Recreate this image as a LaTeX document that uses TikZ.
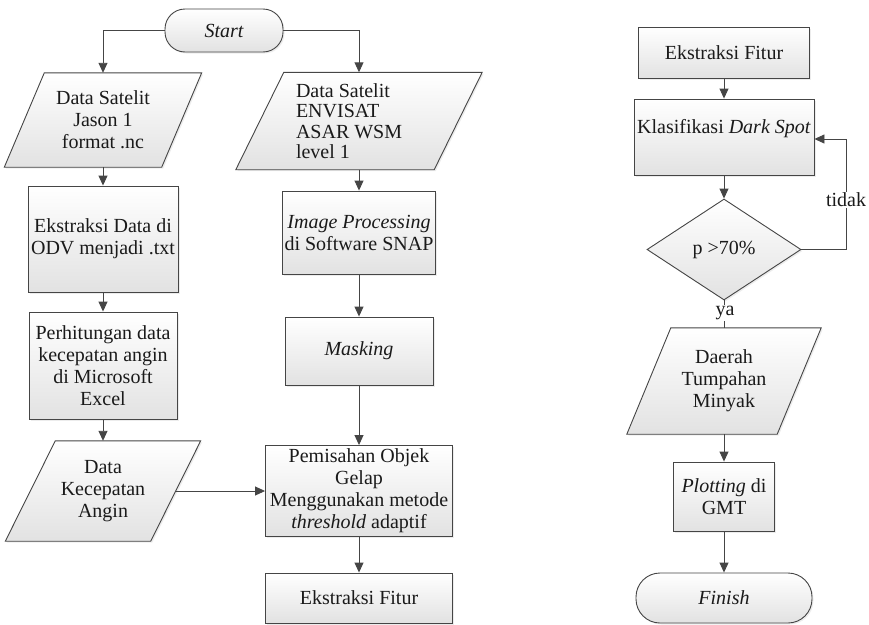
\documentclass[tikz,border=0pt]{standalone}
\usepackage{fontspec}
\setmainfont{Liberation Serif}
\usetikzlibrary{arrows.meta,shapes.geometric,backgrounds,shadows}
\definecolor{linec}{HTML}{454545}
\definecolor{textc}{HTML}{1A1A1A}
\definecolor{fillc}{HTML}{E2E2E2}
\tikzset{
  fnt/.style={font=\fontsize{20}{22}\selectfont},
  shd/.style={drop shadow={opacity=0.15, shadow xshift=1.5pt, shadow yshift=-1.5pt}},
  base/.style={fnt, shd, draw=linec, line width=0.9pt, top color=white, bottom color=fillc, text=textc, align=center, inner sep=2pt},
  procbox/.style={base, rectangle},
  termbox/.style={base, rectangle, font=\fontsize{20}{22}\selectfont\itshape},
  decbox/.style={base, diamond, inner sep=0pt},
  ptext/.style={fnt, align=center, text=textc, inner sep=0pt},
  pshape/.style={shd, draw=linec, line width=0.9pt, top color=white, bottom color=fillc},
  conn/.style={draw=linec, line width=0.9pt, -{Triangle[length=10pt,width=9pt]}},
  plain/.style={draw=linec, line width=0.9pt},
  lbl/.style={fnt, fill=white, text=textc, inner sep=1pt}
}
% name, x, y, edge width, height, half slant, text
\newcommand{\paranode}[7]{%
  \node[ptext, minimum width=#4pt, minimum height=#5pt] (#1) at (#2,#3) {#7};
  \begin{scope}[on background layer]
    \path[pshape] ([xshift=-#6pt]#1.south west) -- ([xshift=-#6pt]#1.south east)
      -- ([xshift=#6pt]#1.north east) -- ([xshift=#6pt]#1.north west) -- cycle;
  \end{scope}}
\begin{document}
\begin{tikzpicture}[x=1pt, y=-1pt]
\useasboundingbox (0,0) rectangle (869,624);

% ---- left / middle columns
\node[termbox, rounded corners=20pt, minimum width=118pt, minimum height=43pt] (start) at (224,30.5) {Start};

\paranode{p1}{103}{120}{157}{94}{20}{Data Satelit\\Jason 1\\format .nc}
\node[ptext, minimum width=198pt, minimum height=97pt] (p2) at (359,121)
  {\parbox{126pt}{\raggedright\fontsize{20}{20.5}\selectfont Data Satelit\\ENVISAT\\ASAR WSM\\level 1}};
\begin{scope}[on background layer]
  \path[pshape] ([xshift=-24pt]p2.south west) -- ([xshift=-24pt]p2.south east)
    -- ([xshift=24pt]p2.north east) -- ([xshift=24pt]p2.north west) -- cycle;
\end{scope}

\node[procbox, minimum width=150pt, minimum height=106pt] (b1) at (103,239) {Ekstraksi Data di\\ODV menjadi .txt};
\node[procbox, minimum width=152pt, minimum height=83pt] (b2) at (359,232.5) {\textit{Image Processing}\\di Software SNAP};
\node[procbox, minimum width=148pt, minimum height=107pt] (b3) at (103,365.5) {Perhitungan data\\kecepatan angin\\di Microsoft\\Excel};
\node[procbox, minimum width=148pt, minimum height=68pt] (b4) at (359,351) {\textit{Masking}};

\paranode{p3}{103}{491}{145}{100}{25}{Data\\Kecepatan\\Angin}
\node[procbox, minimum width=187pt, minimum height=91pt] (b5) at (359,491) {Pemisahan Objek\\Gelap\\Menggunakan metode\\\textit{threshold} adaptif};
\node[procbox, minimum width=187pt, minimum height=50pt] (b6) at (359,598) {Ekstraksi Fitur};

% ---- right column
\node[procbox, minimum width=171pt, minimum height=51pt] (e2) at (724,52.5) {Ekstraksi Fitur};
\node[procbox, minimum width=180pt, minimum height=76pt, text height=10pt, text depth=18pt] (k) at (724,137) {Klasifikasi \textit{Dark Spot}};
\node[decbox, minimum width=154pt, minimum height=101pt] (d) at (724,249.5) {p >70\%};
\paranode{p4}{724}{381}{150}{106}{22}{Daerah\\Tumpahan\\Minyak}
\node[procbox, minimum width=101pt, minimum height=69pt] (b7) at (724,496.5) {\textit{Plotting} di\\GMT};
\node[termbox, rounded corners=24pt, minimum width=176pt, minimum height=50pt] (finish) at (724,598) {Finish};

% ---- connectors
\draw[conn] (start.west) -| (p1.north);
\draw[conn] (start.east) -| (p2.north);
\draw[conn] (p1.south) -- (b1.north);
\draw[conn] (b1.south) -- (b3.north);
\draw[conn] (b3.south) -- (p3.north);
\draw[conn] (p3.east) -- (b5.west);
\draw[conn] (p2.south) -- (b2.north);
\draw[conn] (b2.south) -- (b4.north);
\draw[conn] (b4.south) -- (b5.north);
\draw[conn] (b5.south) -- (b6.north);

\draw[conn] (e2.south) -- (k.north);
\draw[conn] (k.south) -- (d.north);
\coordinate (loopc) at (846,139);
\draw[conn] (d.east) -| (loopc) -- (loopc -| k.east);
\node[lbl] (tidak) at (846,200) {tidak};
\draw[plain] (d.south) -- (p4.north);
\node[lbl] (ya) at (725,313) {ya};
\draw[conn] (p4.south) -- (b7.north);
\draw[conn] (b7.south) -- (finish.north);
\end{tikzpicture}
\end{document}
